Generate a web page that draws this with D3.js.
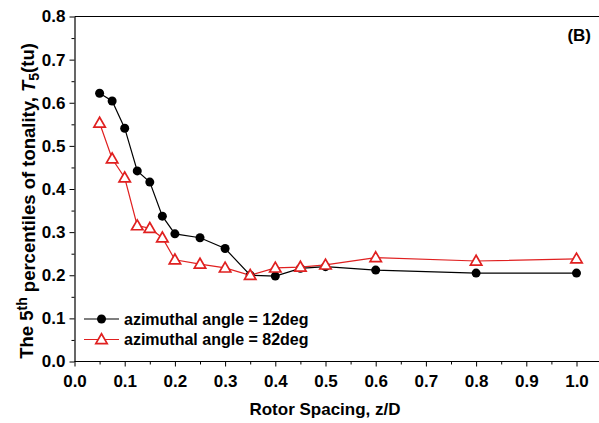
<!DOCTYPE html>
<html>
<head>
<meta charset="utf-8">
<script src="https://cdn.jsdelivr.net/npm/d3@7"></script>
<style>
  body { margin: 0; background: #fff; }
  text { font-family: "Liberation Sans", Arial, sans-serif; font-weight: bold; }
</style>
</head>
<body>
<div class="canvas1"></div>
<script>
// data
const spacing12 = [0.05, 0.075, 0.1, 0.125, 0.15, 0.175, 0.2, 0.25, 0.3, 0.35, 0.4, 0.45, 0.5, 0.6, 0.8, 1.0];
const tonality12 = [0.622, 0.604, 0.541, 0.442, 0.416, 0.337, 0.296, 0.287, 0.262, 0.200, 0.198, 0.216, 0.220, 0.212, 0.205, 0.205];
const spacing82 = [0.05, 0.075, 0.1, 0.125, 0.15, 0.175, 0.2, 0.25, 0.3, 0.35, 0.4, 0.45, 0.5, 0.6, 0.8, 1.0];
const tonality82 = [0.553, 0.470, 0.426, 0.315, 0.309, 0.287, 0.236, 0.226, 0.217, 0.200, 0.217, 0.219, 0.224, 0.241, 0.233, 0.238];
const legendLabels = ["azimuthal angle = 12deg", "azimuthal angle = 82deg"];
const xTicks = [0, 0.1, 0.2, 0.3, 0.4, 0.5, 0.6, 0.7, 0.8, 0.9, 1.0];
const yTicks = [0, 0.1, 0.2, 0.3, 0.4, 0.5, 0.6, 0.7, 0.8];

const W = 599, H = 423;
const margin = { top: 16.5, left: 74.5, bottom: 61.5 };
const height = H - margin.top - margin.bottom;

const svg = d3.select(".canvas1").append("svg")
    .attr("width", W)
    .attr("height", H);

// x scale runs past the right edge (picture is cropped there)
const x = d3.scaleLinear().domain([0, 1.05]).range([margin.left, margin.left + 1.05 * 502]);
const y = d3.scaleLinear().domain([0, 0.8]).range([margin.top + height, margin.top]);

// top frame line
svg.append("line")
    .attr("x1", margin.left).attr("x2", W + 5)
    .attr("y1", margin.top).attr("y2", margin.top)
    .attr("stroke", "#000").attr("stroke-width", 1.2);

// minor ticks
const xMinor = d3.range(0.05, 1.05, 0.1);
const yMinor = d3.range(0.05, 0.8, 0.1);

svg.append("g")
    .attr("transform", "translate(0," + (margin.top + height) + ")")
    .call(d3.axisBottom(x).tickValues(xMinor).tickSize(3).tickFormat(""))
    .call(g => g.select(".domain").remove());
svg.append("g")
    .attr("transform", "translate(" + margin.left + ",0)")
    .call(d3.axisLeft(y).tickValues(yMinor).tickSize(3).tickFormat(""))
    .call(g => g.select(".domain").remove());

// X axis
const xAxis = svg.append("g")
    .attr("transform", "translate(0," + (margin.top + height) + ")")
    .call(d3.axisBottom(x)
      .tickValues(xTicks)
      .tickSize(5)
      .tickSizeOuter(0)
      .tickPadding(8)
      .tickFormat(d3.format(".1f")));
xAxis.selectAll("text").style("font-size", "17px").attr("fill", "#000");
xAxis.select(".domain").attr("stroke-width", 1.2).attr("d", "M" + margin.left + ",0H" + (W + 5));

// Y axis
const yAxis = svg.append("g")
    .attr("transform", "translate(" + margin.left + ",0)")
    .call(d3.axisLeft(y)
      .tickValues(yTicks)
      .tickSize(5)
      .tickSizeOuter(0)
      .tickPadding(4)
      .tickFormat(d3.format(".1f")));
yAxis.selectAll("text").style("font-size", "17px").attr("fill", "#000");
yAxis.select(".domain").attr("stroke-width", 1.2);

// X axis label
svg.append("text")
    .attr("x", 325)
    .attr("y", 415)
    .attr("text-anchor", "middle")
    .style("font-size", "17px")
    .text("Rotor Spacing, z/D");

// Y axis label
const yl = svg.append("text")
    .attr("transform", "translate(33," + 201 + ") rotate(-90)")
    .attr("text-anchor", "middle")
    .style("font-size", "18.5px");
yl.append("tspan").text("The 5");
yl.append("tspan").attr("dy", "-0.45em").style("font-size", "14px").text("th");
yl.append("tspan").attr("dy", "0.45em").text(" percentiles of tonality, ");
yl.append("tspan").style("font-style", "italic").text("T");
yl.append("tspan").attr("dy", "0.3em").style("font-size", "14px").text("5");
yl.append("tspan").attr("dy", "-0.3em").text("(tu)");

// panel tag
svg.append("text")
    .attr("x", 591).attr("y", 41)
    .attr("text-anchor", "end")
    .style("font-size", "17px")
    .text("(B)");

const line = d3.line()
    .x(d => x(d[0]))
    .y(d => y(d[1]));

const data12 = spacing12.map((s, i) => [s, tonality12[i]]);
const data82 = spacing82.map((s, i) => [s, tonality82[i]]);

const tri = d3.symbol().type(d3.symbolTriangle).size(56);

// 82deg line
svg.append("path")
    .datum(data82)
    .attr("fill", "none")
    .attr("stroke", "#e02020")
    .attr("stroke-width", 1.2)
    .attr("d", line);

// 12deg line
svg.append("path")
    .datum(data12)
    .attr("fill", "none")
    .attr("stroke", "#000")
    .attr("stroke-width", 1.2)
    .attr("d", line);

svg.selectAll(".dot12")
    .data(data12)
  .enter().append("circle")
    .attr("cx", d => x(d[0]))
    .attr("cy", d => y(d[1]))
    .attr("r", 4.5)
    .attr("fill", "#000");

svg.selectAll(".tri82")
    .data(data82)
  .enter().append("path")
    .attr("d", tri)
    .attr("transform", d => "translate(" + x(d[0]) + "," + (y(d[1]) + 0.8) + ")")
    .attr("fill", "#fff")
    .attr("stroke", "#e02020")
    .attr("stroke-width", 1.7);

// legend
const legendY = [319, 339.5];
legendLabels.forEach((lab, i) => {
  const col = i === 0 ? "#000" : "#e02020";
  svg.append("line")
      .attr("x1", 84).attr("x2", 119)
      .attr("y1", legendY[i]).attr("y2", legendY[i])
      .attr("stroke", col).attr("stroke-width", 1.2);
  if (i === 0) {
    svg.append("circle").attr("cx", 101.5).attr("cy", legendY[i]).attr("r", 4.5).attr("fill", "#000");
  } else {
    svg.append("path").attr("d", tri)
        .attr("transform", "translate(101.5," + (legendY[i] + 0.8) + ")")
        .attr("fill", "#fff").attr("stroke", col).attr("stroke-width", 1.7);
  }
  svg.append("text")
      .attr("x", 124)
      .attr("y", legendY[i])
      .attr("dy", "0.35em")
      .style("font-size", "16px")
      .text(lab);
});
</script>
</body>
</html>
